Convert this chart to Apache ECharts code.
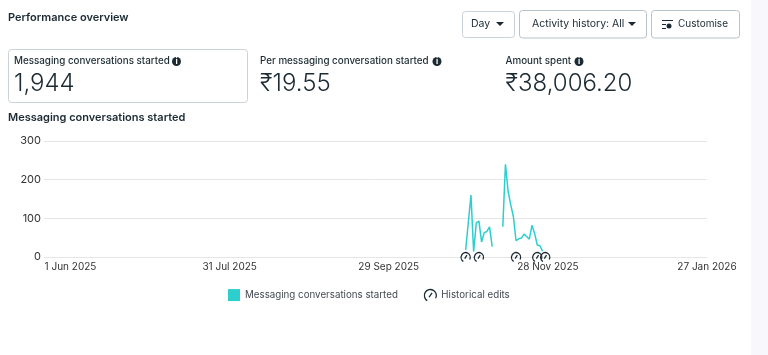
<!DOCTYPE html>
<html>
<head>
<meta charset="utf-8">
<style>
  html, body { margin: 0; padding: 0; background: #fff; }
  #chart { width: 768px; height: 355px; }
</style>
<script src="https://cdn.jsdelivr.net/npm/echarts@6/dist/echarts.min.js"></script>
</head>
<body>
<div id="chart"></div>
<script>
const conversationDates = [
    '2025-10-28', '2025-10-30', '2025-10-31', '2025-11-01', '2025-11-02',
    '2025-11-03', '2025-11-04', '2025-11-05', '2025-11-06', '2025-11-07',
    '2025-11-08', '2025-11-09', '2025-11-10',
    '2025-11-11', '2025-11-12', '2025-11-13', '2025-11-14', '2025-11-15',
    '2025-11-16', '2025-11-17', '2025-11-18', '2025-11-19', '2025-11-20',
    '2025-11-21', '2025-11-22', '2025-11-23', '2025-11-24', '2025-11-25', '2025-11-26'
];
const conversationValues = [
    18, 160, 14, 88, 93, 39, 63, 66, 78, 27,
    null, null, null,
    78, 240, 170, 135, 104, 42, 47, 49, 59, 53, 46, 82, 61, 31, 29, 15
];
const editDates = ['2025-10-28', '2025-11-02', '2025-11-16', '2025-11-24', '2025-11-27'];
const axisStart = '2025-05-22';
const tickDates = ['2025-06-01', '2025-07-31', '2025-09-29', '2025-11-28', '2026-01-27'];
const tickLabels = ['1 Jun 2025', '31 Jul 2025', '29 Sep 2025', '28 Nov 2025', '27 Jan 2026'];
const yTicks = [0, 100, 200, 300];

const SERIES_NAME = 'Messaging conversations started';
const EDITS_NAME = 'Historical edits';
const FONT = 'Inter, "Noto Sans", sans-serif';
const GAUGE = 'path://M7 21A10 10 0 1 1 21 17M10 15L15 8';

const toTime = d => Date.parse(d + 'T00:00:00Z');
const tickTimes = tickDates.map(toTime);
const edgeStyle = { color: 'none', borderColor: '#1c2b33', borderWidth: 1.3, opacity: 1 };

function text(x, y, str, size, weight, color) {
    return {
        type: 'text', x: x, y: y,
        style: { text: str, fontSize: size, fontWeight: weight, fill: color || '#1c2b33', fontFamily: FONT, verticalAlign: 'middle' }
    };
}
function box(x, y, w, h, stroke) {
    return {
        type: 'rect', shape: { x: x, y: y, width: w, height: h, r: 3 },
        style: { fill: '#fff', stroke: stroke || '#cbd2d9', lineWidth: 1 }
    };
}
function infoIcon(cx, cy) {
    return [
        { type: 'circle', shape: { cx: cx, cy: cy, r: 4.5 }, style: { fill: '#1c2b33' } },
        { type: 'text', x: cx, y: cy, style: { text: 'i', fontSize: 8, fontWeight: 700, fill: '#fff', fontFamily: FONT, align: 'center', verticalAlign: 'middle' } }
    ];
}
function caret(cx, cy) {
    return { type: 'polygon', shape: { points: [[cx - 4, cy - 2], [cx + 4, cy - 2], [cx, cy + 2]] }, style: { fill: '#1c2b33' } };
}
function stroke(x1, y1, x2, y2) {
    return { type: 'line', shape: { x1: x1, y1: y1, x2: x2, y2: y2 }, style: { stroke: '#1c2b33', lineWidth: 1 } };
}

const chart = echarts.init(document.getElementById('chart'));
chart.setOption({
    animation: false,
    backgroundColor: '#fff',
    textStyle: { fontFamily: FONT },
    grid: { left: 44, right: 61, top: 141, bottom: 98 },
    xAxis: {
        type: 'value',
        min: toTime(axisStart),
        max: tickTimes[tickTimes.length - 1],
        axisLine: { show: false },
        axisTick: { show: false },
        splitLine: { show: false },
        axisLabel: {
            customValues: tickTimes,
            hideOverlap: false,
            margin: 5,
            fontSize: 10,
            color: '#333',
            fontFamily: FONT,
            formatter: function (value) {
                return tickLabels[tickTimes.indexOf(value)];
            }
        }
    },
    yAxis: {
        type: 'value',
        min: 0,
        max: yTicks[yTicks.length - 1],
        interval: 100,
        axisLabel: { fontSize: 11, color: '#333', margin: 3, fontFamily: FONT },
        axisLine: { show: false },
        axisTick: { show: false },
        splitLine: { lineStyle: { color: '#e6e6e6', width: 1 } }
    },
    legend: {
        left: 228,
        top: 287,
        padding: 0,
        itemWidth: 12,
        itemHeight: 12,
        itemGap: 24,
        textStyle: { fontSize: 9.75, color: '#444950', fontFamily: FONT },
        data: [
            { name: SERIES_NAME, icon: 'rect' },
            { name: EDITS_NAME, icon: GAUGE, itemStyle: edgeStyle }
        ]
    },
    series: [
        {
            name: SERIES_NAME,
            type: 'line',
            data: conversationDates.map((d, i) => [toTime(d), conversationValues[i]]),
            showSymbol: false,
            connectNulls: false,
            itemStyle: { color: '#2ccfcd' },
            lineStyle: { color: '#2ccfcd', width: 1.5 }
        },
        {
            name: EDITS_NAME,
            type: 'scatter',
            data: editDates.map(d => [toTime(d), 0]),
            symbol: GAUGE,
            symbolSize: 9,
            clip: false,
            z: 5,
            itemStyle: edgeStyle
        }
    ],
    graphic: [
        { type: 'rect', shape: { x: 751, y: 0, width: 17, height: 355 }, style: { fill: '#f8f8fc' } },
        text(8, 18, 'Performance overview', 11, 600),
        box(8.5, 49.5, 239, 53),
        text(14, 61.5, SERIES_NAME, 9.8, 500),
        ...infoIcon(176.5, 61.5),
        text(14, 84, '1,944', 24, 300),
        text(260, 61.5, 'Per messaging conversation started', 9.8, 500),
        ...infoIcon(437, 61.5),
        text(260, 84, '₹19.55', 24, 300),
        text(505.5, 61.5, 'Amount spent', 9.8, 500),
        ...infoIcon(579, 61.5),
        text(505.5, 84, '₹38,006.20', 24, 300),
        text(8, 117.5, SERIES_NAME, 11, 600),
        box(462.5, 11.5, 52, 26),
        text(471, 24, 'Day', 10.5, 400),
        caret(500, 24),
        box(519.5, 10.5, 127, 27.5, '#b8c2cc'),
        text(532, 24, 'Activity history: All', 10.5, 400),
        caret(632, 24),
        box(651.5, 10.5, 88, 27.5, '#b8c2cc'),
        text(678, 24, 'Customise', 10, 400),
        stroke(662, 20.5, 673, 20.5),
        stroke(662, 24.5, 666, 24.5),
        stroke(662, 28.5, 666, 28.5),
        { type: 'circle', shape: { cx: 669, cy: 26, r: 2.5 }, style: { fill: '#1c2b33' } }
    ]
});

window.addEventListener('resize', () => {
    chart.resize();
});
</script>
</body>
</html>
